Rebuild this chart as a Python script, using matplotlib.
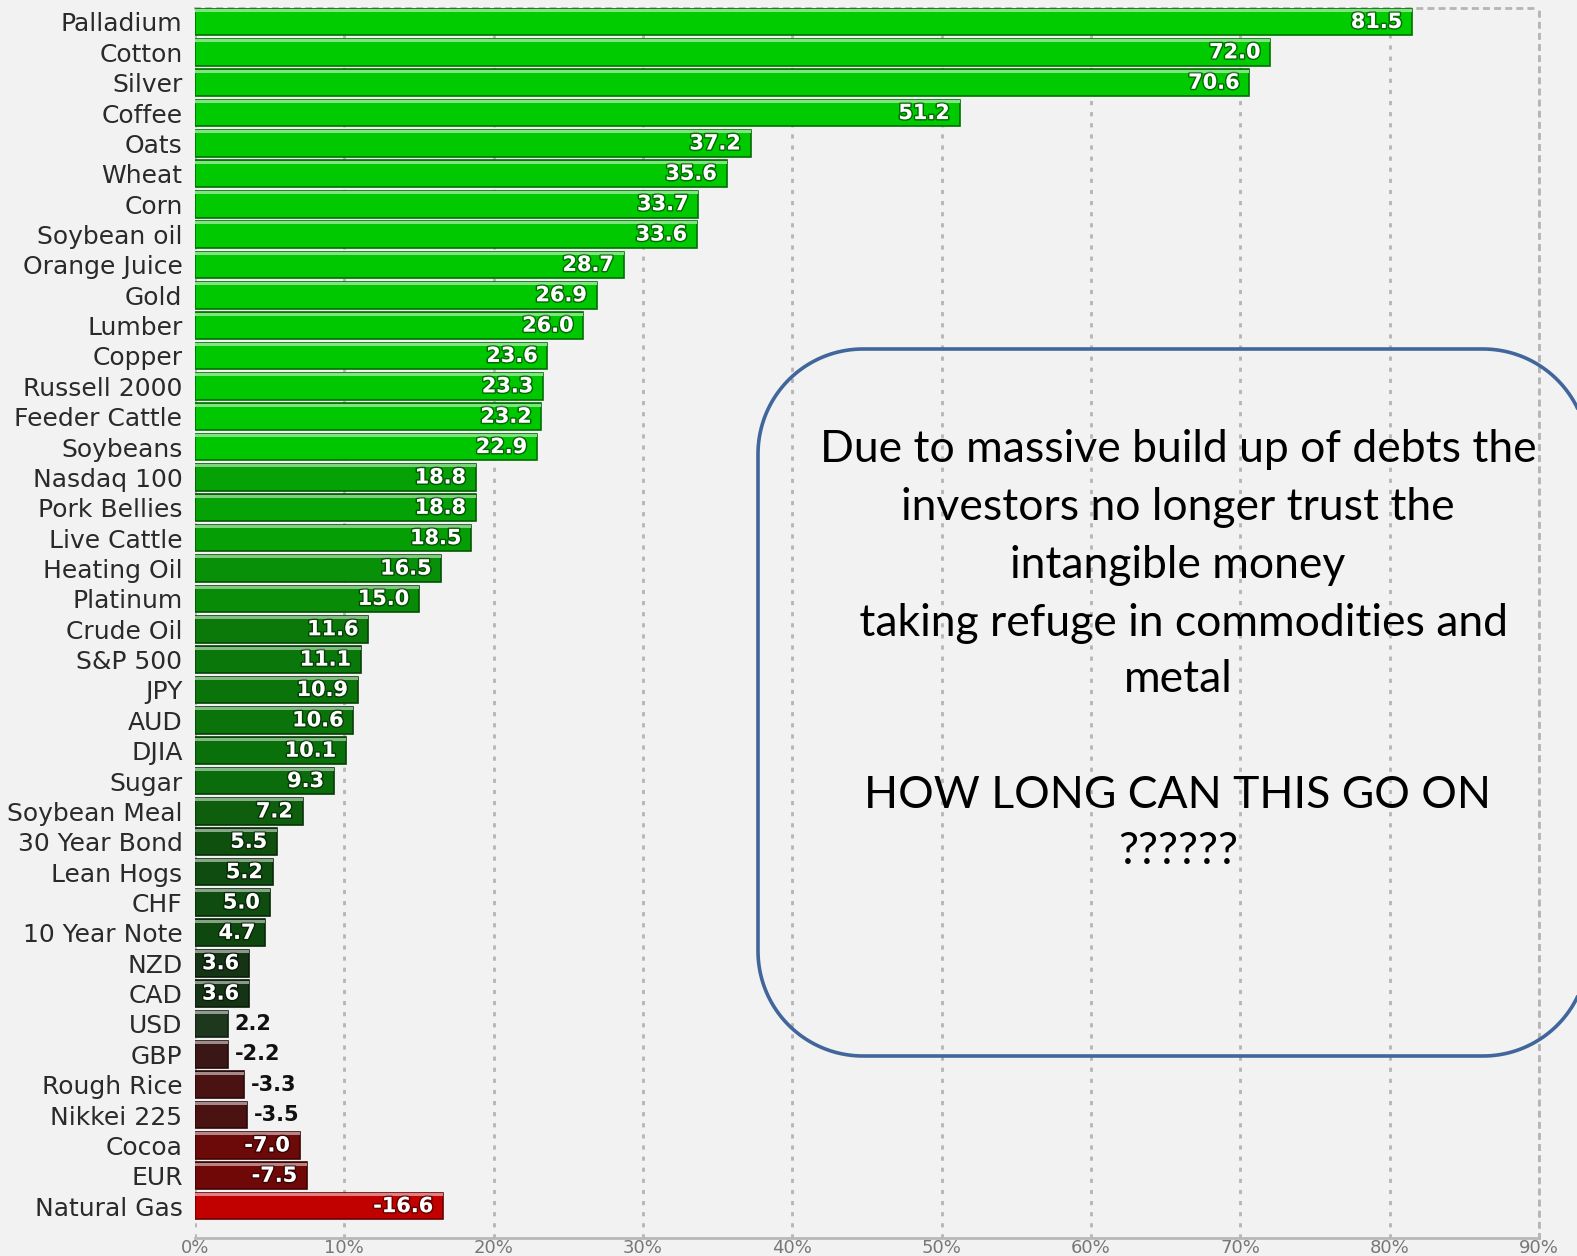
import matplotlib
matplotlib.use("Agg")
import matplotlib.pyplot as plt
import numpy as np
from matplotlib.colors import LinearSegmentedColormap, Normalize
from matplotlib.patches import Polygon
import matplotlib.patheffects as pe

names = ["Palladium", "Cotton", "Silver", "Coffee", "Oats", "Wheat", "Corn",
         "Soybean oil", "Orange Juice", "Gold", "Lumber", "Copper", "Russell 2000",
         "Feeder Cattle", "Soybeans", "Nasdaq 100", "Pork Bellies", "Live Cattle",
         "Heating Oil", "Platinum", "Crude Oil", "S&P 500", "JPY", "AUD", "DJIA",
         "Sugar", "Soybean Meal", "30 Year Bond", "Lean Hogs", "CHF", "10 Year Note",
         "NZD", "CAD", "USD", "GBP", "Rough Rice", "Nikkei 225", "Cocoa", "EUR",
         "Natural Gas"]
values = [81.5, 72.0, 70.6, 51.2, 37.2, 35.6, 33.7, 33.6, 28.7, 26.9, 26.0, 23.6,
          23.3, 23.2, 22.9, 18.8, 18.8, 18.5, 16.5, 15.0, 11.6, 11.1, 10.9, 10.6,
          10.1, 9.3, 7.2, 5.5, 5.2, 5.0, 4.7, 3.6, 3.6, 2.2, -2.2, -3.3, -3.5,
          -7.0, -7.5, -16.6]
xticks = [0, 10, 20, 30, 40, 50, 60, 70, 80, 90]
xtick_labels = ["0%", "10%", "20%", "30%", "40%", "50%", "60%", "70%", "80%", "90%"]
note_lines = ["Due to massive build up of debts the",
              "investors no longer trust the",
              "intangible money",
              " taking refuge in commodities and",
              "metal",
              "",
              "HOW LONG CAN THIS GO ON",
              "??????"]

W, H = 1577, 1256
DPI = 100
BG = "#f2f2f2"

# colour scale (value -> colour)
vmin, vmax = -20.0, 90.0
anchors = [(-20, "#c80000"), (-16.6, "#c00000"), (-7.5, "#700808"), (-7.0, "#6c0a0a"),
           (-3.5, "#4a1212"), (-2.2, "#3a1616"), (0, "#222222"), (2.2, "#1e3a1e"),
           (3.6, "#123212"), (4.7, "#0f4a0f"), (5.5, "#0f500f"), (7.2, "#0e5e0e"),
           (9.3, "#0a6c0a"), (11.6, "#0a7a0a"), (15.0, "#088c08"), (16.5, "#089208"),
           (18.8, "#04a204"), (22.9, "#00c800"), (90, "#00cc00")]
cmap = LinearSegmentedColormap.from_list(
    "perf", [((v - vmin) / (vmax - vmin), c) for v, c in anchors])
norm = Normalize(vmin, vmax)

fig = plt.figure(figsize=(W / DPI, H / DPI), dpi=DPI, facecolor=BG)
left, right = 195 / W, 1539 / W
top, bottom = 1 - 8 / H, 1 - 1238 / H
ax = fig.add_axes([left, bottom, right - left, top - bottom])
ax.set_facecolor(BG)

n = len(names)
y = np.arange(n)
lengths = np.abs(values)
cols = [np.array(cmap(norm(v))[:3]) for v in values]
edge = [c * 0.55 for c in cols]
light = [c + (1 - c) * 0.5 for c in cols]

bar_h = 0.88
ax.barh(y, lengths, height=bar_h, color=cols, edgecolor=edge, linewidth=1.2, zorder=3)
ax.barh(y - bar_h / 2 + 0.06, lengths, height=0.1, color=light, linewidth=0, zorder=4)

for i, v in enumerate(values):
    lab = f"{v:.1f}"
    if abs(v) >= 3.6:
        ax.annotate(lab, (abs(v), i), xytext=(-7, 0), textcoords="offset points",
                    ha="right", va="center", color="white", fontsize=15,
                    fontweight="bold", zorder=6,
                    path_effects=[pe.withStroke(linewidth=2.2, foreground=(0, 0, 0, 0.45))])
    else:
        ax.annotate(lab, (abs(v), i), xytext=(5, 0), textcoords="offset points",
                    ha="left", va="center", color="#111111", fontsize=15,
                    fontweight="bold", zorder=6)

ax.set_ylim(n - 1 + 1.05, -0.46)
ax.set_xlim(0, 90)
ax.set_yticks(y)
ax.set_yticklabels(names, fontsize=18, color="#2a2a2a")
ax.set_xticks(xticks)
ax.set_xticklabels(xtick_labels, fontsize=13, color="#777777")
ax.tick_params(axis="y", length=0, pad=9)
ax.tick_params(axis="x", length=0, pad=1)
ax.grid(axis="x", color="#b5b5b5", linestyle=(0, (1.5, 2.5)), linewidth=2.0, zorder=1)
ax.set_axisbelow(True)
ax.spines["left"].set_visible(False)
ax.spines["bottom"].set_color("#b8b8b8")
ax.spines["bottom"].set_linewidth(2)
for s in ["top", "right"]:
    ax.spines[s].set_color("#b5b5b5")
    ax.spines[s].set_linestyle((0, (1.5, 2.5)))
    ax.spines[s].set_linewidth(2)

# overlay in pixel coordinates (origin bottom-left) for the note box
ov = fig.add_axes([0, 0, 1, 1])
ov.set_xlim(0, W)
ov.set_ylim(0, H)
ov.axis("off")
ov.patch.set_visible(False)

box_top, box_bottom = H - 349, H - 1056
box_left, box_right = 758, 1588
r = 105
pts = []
corners = [(box_right - r, box_top - r, 0, 90),
           (box_left + r, box_top - r, 90, 180),
           (box_left + r, box_bottom + r, 180, 270),
           (box_right - r, box_bottom + r, 270, 360)]
for cx, cy, a0, a1 in corners:
    t = np.radians(np.linspace(a0, a1, 40))
    pts.extend(zip(cx + r * np.cos(t), cy + r * np.sin(t)))
box = Polygon(pts, closed=True, fill=False, edgecolor="#41669b", linewidth=2.6,
              zorder=10, clip_on=False)
ov.add_patch(box)

line_y = [450, 507, 565, 623, 680, 737, 795, 852]
for txt, yy in zip(note_lines, line_y):
    if txt:
        ov.text(1178, H - yy, txt, ha="center", va="center", fontsize=32,
                family="Lato", color="black", zorder=11)

fig.savefig("out.png", dpi=DPI, facecolor=BG)
